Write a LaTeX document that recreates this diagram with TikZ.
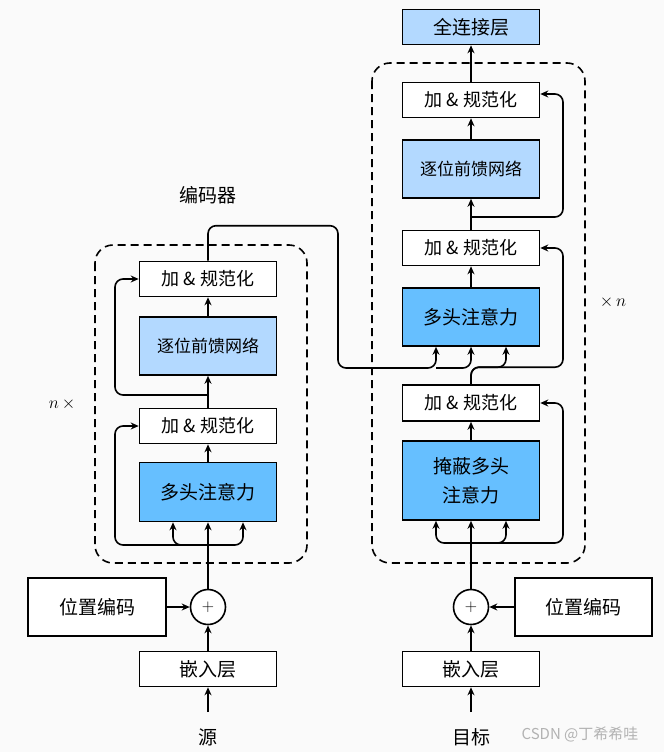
\documentclass[tikz,border=0pt]{standalone}
\usepackage{fontspec}
\usepackage{tikz}
\usetikzlibrary{arrows.meta}
\newfontfamily\cjk{Noto Sans CJK SC}
\definecolor{mhablue}{RGB}{102,191,255}
\definecolor{ffnblue}{RGB}{179,217,255}
\definecolor{bggray}{RGB}{250,250,250}

\begin{document}
\begin{tikzpicture}[x=1pt, y=-1pt, line width=1.6pt, >={Stealth[length=8pt,width=7pt]},
    font=\cjk\fontsize{19}{23}\selectfont,
    block/.style={draw=black, fill=white, minimum width=137pt, minimum height=35pt, inner sep=0pt},
    tall/.style={block, minimum height=58pt},
    norm/.style={block, font=\cjk\fontsize{18}{22}\selectfont},
    ffn/.style={tall, fill=ffnblue, font=\cjk\fontsize{17}{21}\selectfont},
    addsym/.style={shape=circle, draw=black, fill=white, minimum size=35pt, inner sep=0pt,
        font=\fontsize{17}{20}\selectfont},
    layerbox/.style={draw=black, dash pattern=on 8pt off 5pt, rounded corners=18pt},
    turn/.style={rounded corners=8pt}]
    \fill[bggray] (0,0) rectangle (664,752);
    \useasboundingbox (0,0) rectangle (664,752);

    % encoder
    \draw[layerbox] (95,245) rectangle (307,563);
    \node[] at (208,195) (encTitle) {编码器};
    \node[] at (62,404) (encRep) {\fontsize{17}{20}\selectfont$n\,\times$};
    \node[norm] at (208,279) (encAN2) {加 \& 规范化};
    \node[ffn] at (208,346) (encFFN) {逐位前馈网络};
    \node[norm] at (208,426) (encAN1) {加 \& 规范化};
    \node[tall, fill=mhablue, minimum height=59pt] at (208,492) (encMHA) {多头注意力};
    \node[addsym] at (208,607) (encAdd) {+};
    \node[block, minimum width=138pt, minimum height=58pt] at (97,607) (encPos) {位置编码};
    \node[block] at (208,669) (encEmb) {嵌入层};
    \node[] at (208,737) (src) {源};
    \coordinate (encSplit) at (208,545);
    \coordinate (encSplit2) at (208,395);
    \coordinate (encOut) at (338,368);

    \draw[->, shorten <=12pt] (src) -- (encEmb);
    \draw[->] (encEmb) -- (encAdd);
    \draw[->] (encPos) -- (encAdd);
    \draw[->] (encAdd) -- (encMHA);
    \draw[->, turn] (encSplit) -| ([xshift=-35pt]encMHA.south);
    \draw[->, turn] (encSplit) -| ([xshift=35pt]encMHA.south);
    \draw[->, turn] (encSplit) -- ++(-93,0) |- (encAN1.west);
    \draw[->] (encMHA) -- (encAN1);
    \draw[->] (encAN1) -- (encFFN);
    \draw[->, turn] (encSplit2) -- ++(-93,0) |- (encAN2.west);
    \draw[->] (encFFN) -- (encAN2);

    % decoder
    \draw[layerbox] (372,63) rectangle (585,563);
    \node[] at (613,302) (decRep) {\fontsize{17}{20}\selectfont$\times\, n$};
    \node[block, fill=ffnblue] at (471,27) (fc) {全连接层};
    \node[norm] at (471,100) (decAN3) {加 \& 规范化};
    \node[ffn] at (471,169) (decFFN) {逐位前馈网络};
    \node[norm] at (471,248) (decAN2) {加 \& 规范化};
    \node[tall, fill=mhablue] at (471,317) (decMHA) {多头注意力};
    \node[norm, minimum height=36pt] at (471,403) (decAN1) {加 \& 规范化};
    \node[tall, fill=mhablue, minimum height=79pt, align=center,
        font=\cjk\fontsize{19}{29}\selectfont] at (471,480.5) (decMMHA) {掩蔽多头\\注意力};
    \node[addsym] at (471,607) (decAdd) {+};
    \node[block, minimum height=58pt] at (583.5,607) (decPos) {位置编码};
    \node[block] at (471,669) (decEmb) {嵌入层};
    \node[] at (471,737) (tgt) {目标};
    \node[text=black!30, font=\cjk\fontsize{15}{18}\selectfont] at (580,734) (mark) {CSDN @丁希希哇};
    \coordinate (decSplit) at (471,543);
    \coordinate (decSplit3) at (471,217);

    \draw[->, shorten <=12pt] (tgt) -- (decEmb);
    \draw[->] (decEmb) -- (decAdd);
    \draw[->] (decPos) -- (decAdd);
    \draw[->] (decAdd) -- (decMMHA);
    \draw[->, turn] (decSplit) -| ([xshift=-35pt]decMMHA.south);
    \draw[->, turn] (decSplit) -| ([xshift=35pt]decMMHA.south);
    \draw[->, turn] (decSplit) -- ++(92,0) |- (decAN1.east);
    \draw[->] (decMMHA) -- (decAN1);
    \draw[->, turn] (decAN1.north) -- ++(0,-17) -| ([xshift=35pt]decMHA.south);
    \draw[->, turn] (decAN1.north) -- ++(0,-17) -- ++(92,0) |- (decAN2.east);
    \draw[->, turn] (encAN2.north) -- ++(0,-35) -| (encOut) -| ([xshift=-35pt]decMHA.south);
    \draw[->, turn] ([xshift=-35pt]decMHA.south |- encOut) -| (decMHA.south);
    \draw[->] (decMHA) -- (decAN2);
    \draw[->] (decAN2) -- (decFFN);
    \draw[->, turn] (decSplit3) -- ++(92,0) |- ([yshift=6pt]decAN3.east);
    \draw[->] (decFFN) -- (decAN3);
    \draw[->] (decAN3) -- (fc);
\end{tikzpicture}
\end{document}
